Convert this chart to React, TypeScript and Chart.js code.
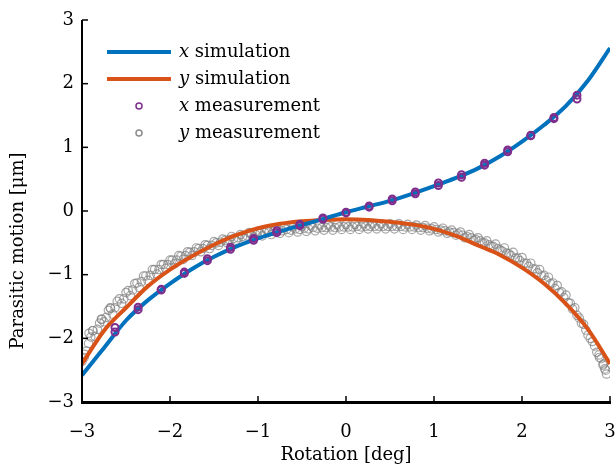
import React, { useEffect, useRef } from 'react';
import { Chart, registerables } from 'chart.js';
Chart.register(...registerables);

// Simulation curves
const simAngle = [-3, -2.75, -2.5, -2.25, -2, -1.75, -1.5, -1.25, -1, -0.75, -0.5, -0.25, 0, 0.25, 0.5, 0.75, 1, 1.25, 1.5, 1.75, 2, 2.25, 2.5, 2.75, 3];
const xSimulation = [-2.58, -2.15, -1.72, -1.40, -1.14, -0.91, -0.72, -0.56, -0.43, -0.32, -0.22, -0.12, -0.02, 0.07, 0.16, 0.27, 0.39, 0.52, 0.67, 0.86, 1.09, 1.35, 1.65, 2.05, 2.56];
const ySimulation = [-2.40, -1.88, -1.52, -1.18, -0.92, -0.71, -0.53, -0.38, -0.27, -0.20, -0.16, -0.14, -0.13, -0.14, -0.17, -0.21, -0.28, -0.39, -0.54, -0.69, -0.89, -1.14, -1.46, -1.86, -2.40];

// x measurement (two passes)
const xMeasAngle = [-2.625, -2.3625, -2.1, -1.8375, -1.575, -1.3125, -1.05, -0.7875, -0.525, -0.2625, 0, 0.2625, 0.525, 0.7875, 1.05, 1.3125, 1.575, 1.8375, 2.1, 2.3625, 2.625];
const xMeasPassA = [-1.83, -1.51, -1.23, -0.96, -0.75, -0.57, -0.43, -0.31, -0.21, -0.11, -0.02, 0.08, 0.19, 0.30, 0.44, 0.57, 0.75, 0.96, 1.19, 1.47, 1.82];
const xMeasPassB = [-1.90, -1.55, -1.24, -0.98, -0.78, -0.60, -0.46, -0.34, -0.23, -0.13, -0.03, 0.06, 0.16, 0.27, 0.40, 0.53, 0.72, 0.93, 1.18, 1.45, 1.76];

// y measurement, forward pass
const yMeasAngleA = [
  -3.00, -2.95, -2.90, -2.85, -2.80, -2.75, -2.70, -2.65, -2.60, -2.55,
  -2.50, -2.45, -2.40, -2.35, -2.30, -2.25, -2.20, -2.15, -2.10, -2.05,
  -2.00, -1.95, -1.90, -1.85, -1.80, -1.75, -1.70, -1.65, -1.60, -1.55,
  -1.50, -1.45, -1.40, -1.35, -1.30, -1.25, -1.20, -1.15, -1.10, -1.05,
  -1.00, -0.95, -0.90, -0.85, -0.80, -0.75, -0.70, -0.65, -0.60, -0.55,
  -0.50, -0.45, -0.40, -0.35, -0.30, -0.25, -0.20, -0.15, -0.10, -0.05,
  0.00, 0.05, 0.10, 0.15, 0.20, 0.25, 0.30, 0.35, 0.40, 0.45,
  0.50, 0.55, 0.60, 0.65, 0.70, 0.75, 0.80, 0.85, 0.90, 0.95,
  1.00, 1.05, 1.10, 1.15, 1.20, 1.25, 1.30, 1.35, 1.40, 1.45,
  1.50, 1.55, 1.60, 1.65, 1.70, 1.75, 1.80, 1.85, 1.90, 1.95,
  2.00, 2.05, 2.10, 2.15, 2.20, 2.25, 2.30, 2.35, 2.40, 2.45,
  2.50, 2.55, 2.60, 2.65, 2.70, 2.75, 2.80, 2.85, 2.90, 2.95,
  -2.97, -2.92, -2.88, -2.78, -2.68, 2.92, 2.94, 2.96, 2.88
];
const yMeasValueA = [
  -2.36, -2.20, -1.98, -1.97, -1.76, -1.74, -1.56, -1.62, -1.42, -1.45,
  -1.28, -1.33, -1.14, -1.20, -1.02, -1.09, -0.92, -0.99, -0.84, -0.90,
  -0.77, -0.83, -0.70, -0.76, -0.64, -0.70, -0.58, -0.64, -0.53, -0.59,
  -0.48, -0.54, -0.44, -0.50, -0.40, -0.46, -0.37, -0.43, -0.34, -0.41,
  -0.32, -0.39, -0.30, -0.37, -0.28, -0.35, -0.26, -0.34, -0.25, -0.33,
  -0.24, -0.32, -0.23, -0.31, -0.22, -0.30, -0.22, -0.30, -0.21, -0.29,
  -0.21, -0.29, -0.21, -0.29, -0.20, -0.28, -0.20, -0.28, -0.20, -0.28,
  -0.20, -0.28, -0.20, -0.29, -0.21, -0.29, -0.22, -0.30, -0.23, -0.31,
  -0.25, -0.33, -0.27, -0.35, -0.30, -0.38, -0.33, -0.42, -0.37, -0.46,
  -0.42, -0.50, -0.47, -0.55, -0.52, -0.61, -0.58, -0.67, -0.65, -0.74,
  -0.73, -0.82, -0.82, -0.91, -0.92, -1.01, -1.04, -1.13, -1.17, -1.27,
  -1.32, -1.45, -1.52, -1.68, -1.78, -1.95, -2.05, -2.22, -2.32, -2.50,
  -2.25, -1.92, -1.88, -1.70, -1.52, -2.42, -2.48, -2.56, -2.30
];

// y measurement, return pass
const yMeasAngleB = [
  -2.975, -2.925, -2.875, -2.825, -2.775, -2.725, -2.675, -2.625, -2.575, -2.525,
  -2.475, -2.425, -2.375, -2.325, -2.275, -2.225, -2.175, -2.125, -2.075, -2.025,
  -1.975, -1.925, -1.875, -1.825, -1.775, -1.725, -1.675, -1.625, -1.575, -1.525,
  -1.475, -1.425, -1.375, -1.325, -1.275, -1.225, -1.175, -1.125, -1.075, -1.025,
  -0.975, -0.925, -0.875, -0.825, -0.775, -0.725, -0.675, -0.625, -0.575, -0.525,
  -0.475, -0.425, -0.375, -0.325, -0.275, -0.225, -0.175, -0.125, -0.075, -0.025,
  0.025, 0.075, 0.125, 0.175, 0.225, 0.275, 0.325, 0.375, 0.425, 0.475,
  0.525, 0.575, 0.625, 0.675, 0.725, 0.775, 0.825, 0.875, 0.925, 0.975,
  1.025, 1.075, 1.125, 1.175, 1.225, 1.275, 1.325, 1.375, 1.425, 1.475,
  1.525, 1.575, 1.625, 1.675, 1.725, 1.775, 1.825, 1.875, 1.925, 1.975,
  2.025, 2.075, 2.125, 2.175, 2.225, 2.275, 2.325, 2.375, 2.425, 2.475,
  2.525, 2.575, 2.625, 2.675, 2.725, 2.775, 2.825, 2.875, 2.925
];
const yMeasValueB = [
  -2.30, -2.08, -1.88, -1.86, -1.70, -1.67, -1.53, -1.52, -1.38, -1.38,
  -1.25, -1.24, -1.13, -1.11, -1.02, -1.01, -0.92, -0.92, -0.84, -0.84,
  -0.77, -0.77, -0.71, -0.70, -0.65, -0.64, -0.59, -0.59, -0.54, -0.54,
  -0.50, -0.49, -0.46, -0.45, -0.43, -0.42, -0.40, -0.39, -0.37, -0.37,
  -0.35, -0.34, -0.33, -0.32, -0.31, -0.31, -0.29, -0.30, -0.28, -0.29,
  -0.27, -0.28, -0.26, -0.27, -0.26, -0.26, -0.25, -0.26, -0.25, -0.25,
  -0.25, -0.25, -0.24, -0.25, -0.24, -0.24, -0.24, -0.24, -0.24, -0.24,
  -0.24, -0.24, -0.24, -0.25, -0.25, -0.25, -0.26, -0.26, -0.27, -0.28,
  -0.29, -0.30, -0.31, -0.33, -0.34, -0.36, -0.38, -0.40, -0.42, -0.45,
  -0.47, -0.50, -0.53, -0.56, -0.59, -0.63, -0.66, -0.70, -0.74, -0.78,
  -0.82, -0.87, -0.91, -0.97, -1.02, -1.09, -1.14, -1.22, -1.28, -1.36,
  -1.44, -1.54, -1.64, -1.76, -1.87, -2.00, -2.12, -2.26, -2.40
];

const axisTicks = [-3, -2, -1, 0, 1, 2, 3];

const BLUE = '#0072BD';
const ORANGE = '#D95319';
const PURPLE = '#7E2F8E';
const GRAY = 'rgba(128,128,128,0.7)';
const FONT = '"DejaVu Serif", serif';

const zip = (xs: number[], ys: number[]) => xs.map((x, i) => ({ x, y: ys[i] }));
const fmt = (v: number) => String(v).replace('-', '\u2212');

const decorPlugin = {
  id: 'decor',
  afterDraw(chart: any) {
    const { ctx, chartArea, scales } = chart;
    const xs = scales.x;
    const ys = scales.y;
    ctx.save();
    ctx.strokeStyle = '#000';
    ctx.fillStyle = '#000';
    ctx.font = `18px ${FONT}`;
    ctx.lineWidth = 1.5;
    axisTicks.forEach((t) => {
      const px = xs.getPixelForValue(t);
      ctx.beginPath();
      ctx.moveTo(px, chartArea.bottom);
      ctx.lineTo(px, chartArea.bottom - 6);
      ctx.stroke();
      ctx.textAlign = 'center';
      ctx.textBaseline = 'middle';
      ctx.fillText(fmt(t), px, 432);
      const py = ys.getPixelForValue(t);
      ctx.beginPath();
      ctx.moveTo(chartArea.left, py);
      ctx.lineTo(chartArea.left + 6, py);
      ctx.stroke();
      ctx.textAlign = 'right';
      ctx.fillText(fmt(t), 74, py);
    });
    // axes lines
    ctx.lineWidth = 2;
    ctx.beginPath();
    ctx.moveTo(chartArea.left, chartArea.top);
    ctx.lineTo(chartArea.left, chartArea.bottom);
    ctx.stroke();
    ctx.lineWidth = 3;
    ctx.beginPath();
    ctx.moveTo(chartArea.left - 1, chartArea.bottom + 0.5);
    ctx.lineTo(chartArea.right + 1, chartArea.bottom + 0.5);
    ctx.stroke();

    // axis titles
    ctx.textAlign = 'center';
    ctx.textBaseline = 'middle';
    ctx.fillText('Rotation [deg]', (chartArea.left + chartArea.right) / 2, 455);
    ctx.save();
    ctx.translate(18, 251);
    ctx.rotate(-Math.PI / 2);
    ctx.fillText('Parasitic motion [μm]', 0, 0);
    ctx.restore();

    // legend
    const rows = [
      { v: 'x', t: ' simulation', type: 'line', color: BLUE },
      { v: 'y', t: ' simulation', type: 'line', color: ORANGE },
      { v: 'x', t: ' measurement', type: 'pt', color: PURPLE },
      { v: 'y', t: ' measurement', type: 'pt', color: 'rgba(128,128,128,0.9)' },
    ];
    rows.forEach((r, i) => {
      const y = 52 + i * 27;
      if (r.type === 'line') {
        ctx.strokeStyle = r.color;
        ctx.lineWidth = 4;
        ctx.beginPath();
        ctx.moveTo(107, y);
        ctx.lineTo(171, y);
        ctx.stroke();
      } else {
        ctx.strokeStyle = r.color;
        ctx.lineWidth = 1.5;
        ctx.beginPath();
        ctx.arc(139, y, 3, 0, Math.PI * 2);
        ctx.stroke();
      }
      ctx.fillStyle = '#000';
      ctx.textAlign = 'left';
      ctx.font = `italic 18px ${FONT}`;
      ctx.fillText(r.v, 179, y);
      const w = ctx.measureText(r.v).width;
      ctx.font = `18px ${FONT}`;
      ctx.fillText(r.t, 179 + w, y);
    });
    ctx.restore();
  },
};

const grayPoints = (data: { x: number; y: number }[]) => ({
  data,
  showLine: false,
  pointRadius: 4.2,
  pointBorderWidth: 1.2,
  pointBorderColor: GRAY,
  pointBackgroundColor: 'rgba(0,0,0,0)',
  order: 4,
});

export default function App() {
  const ref = useRef<HTMLCanvasElement | null>(null);
  useEffect(() => {
    if (!ref.current) return;
    const chart = new Chart(ref.current, {
      type: 'scatter',
      data: {
        datasets: [
          { label: 'y measurement', ...grayPoints(zip(yMeasAngleA, yMeasValueA)) },
          { label: 'y measurement return', ...grayPoints(zip(yMeasAngleB, yMeasValueB)) },
          {
            label: 'y simulation',
            data: zip(simAngle, ySimulation),
            showLine: true,
            borderColor: ORANGE,
            borderWidth: 4,
            pointRadius: 0,
            cubicInterpolationMode: 'monotone',
            order: 3,
          },
          {
            label: 'x simulation',
            data: zip(simAngle, xSimulation),
            showLine: true,
            borderColor: BLUE,
            borderWidth: 4,
            pointRadius: 0,
            cubicInterpolationMode: 'monotone',
            order: 2,
          },
          {
            label: 'x measurement',
            data: zip(xMeasAngle, xMeasPassA),
            showLine: false,
            pointRadius: 3.5,
            pointBorderWidth: 2,
            pointBorderColor: PURPLE,
            pointBackgroundColor: 'rgba(0,0,0,0)',
            order: 1,
          },
          {
            label: 'x measurement B',
            data: zip(xMeasAngle, xMeasPassB),
            showLine: false,
            pointRadius: 3.5,
            pointBorderWidth: 2,
            pointBorderColor: PURPLE,
            pointBackgroundColor: 'rgba(0,0,0,0)',
            order: 0,
          },
        ],
      },
      options: {
        animation: false,
        responsive: false,
        layout: { autoPadding: false, padding: { left: 0, top: 20, right: 5, bottom: 0 } },
        plugins: { legend: { display: false }, tooltip: { enabled: false } },
        scales: {
          x: {
            type: 'linear',
            min: -3,
            max: 3,
            afterFit: (s: any) => { s.height = 66; s.paddingLeft = 0; s.paddingRight = 0; },
            grid: { display: false, drawTicks: false },
            border: { display: false },
            ticks: { display: false },
          },
          y: {
            type: 'linear',
            min: -3,
            max: 3,
            afterFit: (s: any) => { s.width = 82; s.paddingTop = 0; s.paddingBottom = 0; },
            grid: { display: false, drawTicks: false },
            border: { display: false },
            ticks: { display: false },
          },
        },
      },
      plugins: [decorPlugin],
    } as any);
    return () => chart.destroy();
  }, []);
  return (
    <div style={{ position: 'absolute', left: 0, top: 0, width: 615, height: 468, background: '#fff' }}>
      <canvas ref={ref} width={615} height={468} style={{ width: 615, height: 468 }} />
    </div>
  );
}
